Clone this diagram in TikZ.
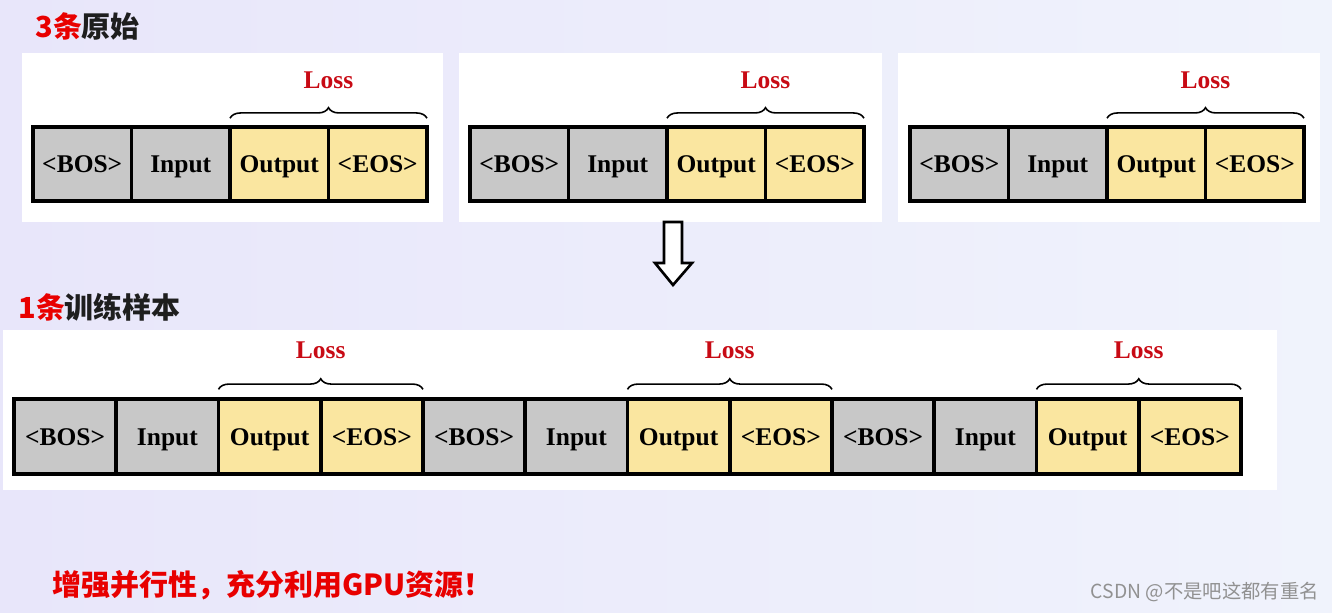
\documentclass[tikz,border=0pt]{standalone}
\usepackage{fontspec}
\setmainfont{Liberation Serif}
\newfontfamily\cjk{Noto Sans CJK SC}
\usetikzlibrary{decorations.pathreplacing}

\definecolor{bgleft}{RGB}{232,230,250}
\definecolor{bgright}{RGB}{240,243,252}
\definecolor{tokgray}{RGB}{200,200,200}
\definecolor{tokyellow}{RGB}{250,230,160}
\definecolor{lossred}{RGB}{200,10,20}
\definecolor{titlered}{RGB}{232,0,0}
\definecolor{titleblack}{RGB}{30,30,30}
\definecolor{markgray}{RGB}{145,145,145}

\begin{document}
\begin{tikzpicture}[
    x=0.02cm, y=-0.02cm,
    tok/.style={draw=black, line width=2pt, inner sep=0pt, outer sep=0pt,
        text height=11pt, text depth=1pt,
        font=\fontsize{14.5}{16}\selectfont\bfseries},
    src/.style={tok, fill=tokgray},
    tgt/.style={tok, fill=tokyellow},
    small/.style={minimum width=1.97cm, minimum height=1.48cm},
    wide/.style={minimum width=2.045cm, minimum height=1.5cm},
    lossbrace/.style={decorate, decoration={brace, amplitude=6pt}, line width=0.9pt},
    losslabel/.style={text=lossred, font=\fontsize{14.5}{16}\selectfont\bfseries},
    title/.style={font=\cjk\fontsize{16.5}{18}\selectfont\bfseries, anchor=west, inner sep=0pt}
]
    \useasboundingbox (0,0) rectangle (1332,612);
    \shade[left color=bgleft, right color=bgright] (0,0) rectangle (1332,612);

    % white panels
    \fill[white] (22,53) rectangle (443,222);
    \fill[white] (459,53) rectangle (882,222);
    \fill[white] (898,53) rectangle (1320,222);
    \fill[white] (3,330) rectangle (1277,490);

    \node[title, text=titleblack] (top) at (35,26) {\textcolor{titlered}{3条}原始};
    \node[title, text=titleblack] (bottom) at (18,307) {\textcolor{titlered}{1条}训练样本};

    % three original samples
    \foreach \r/\x in {1/33, 2/470, 3/910} {
        \node[src, small] (b\r) at (\x+49.25,164) {<BOS>};
        \node[src, small] (i\r) at (\x+147.75,164) {Input};
        \node[tgt, small] (o\r) at (\x+246.25,164) {Output};
        \node[tgt, small] (e\r) at (\x+344.75,164) {<EOS>};
        \draw[lossbrace] ([yshift=5pt]o\r.north west) -- ([yshift=5pt]e\r.north east)
            node[midway, yshift=21.5pt, losslabel] (l\r) {Loss};
    }

    % packing arrow
    \draw[line width=1.5pt, fill=white, line join=miter]
        (664,222) -- (682,222) -- (682,263) -- (692,263) -- (673,285)
        -- (655,263) -- (664,263) -- cycle;

    % one packed sample
    \foreach \k/\x in {1/14, 2/423, 3/832} {
        \node[src, wide] (pb\k) at (\x+51.1,436.5) {<BOS>};
        \node[src, wide] (pi\k) at (\x+153.4,436.5) {Input};
        \node[tgt, wide] (po\k) at (\x+255.6,436.5) {Output};
        \node[tgt, wide] (pe\k) at (\x+357.9,436.5) {<EOS>};
        \draw[lossbrace] ([yshift=5.5pt]po\k.north west) -- ([yshift=5.5pt]pe\k.north east)
            node[midway, yshift=22pt, losslabel] (pl\k) {Loss};
    }

    \node[title, text=titlered] (note) at (52,585) {增强并行性，充分利用GPU资源！};
    \node[anchor=east, inner sep=0pt, text=markgray, font=\cjk\fontsize{11}{12}\selectfont]
        (mark) at (1319,592) {CSDN @不是吧这都有重名};
\end{tikzpicture}
\end{document}
